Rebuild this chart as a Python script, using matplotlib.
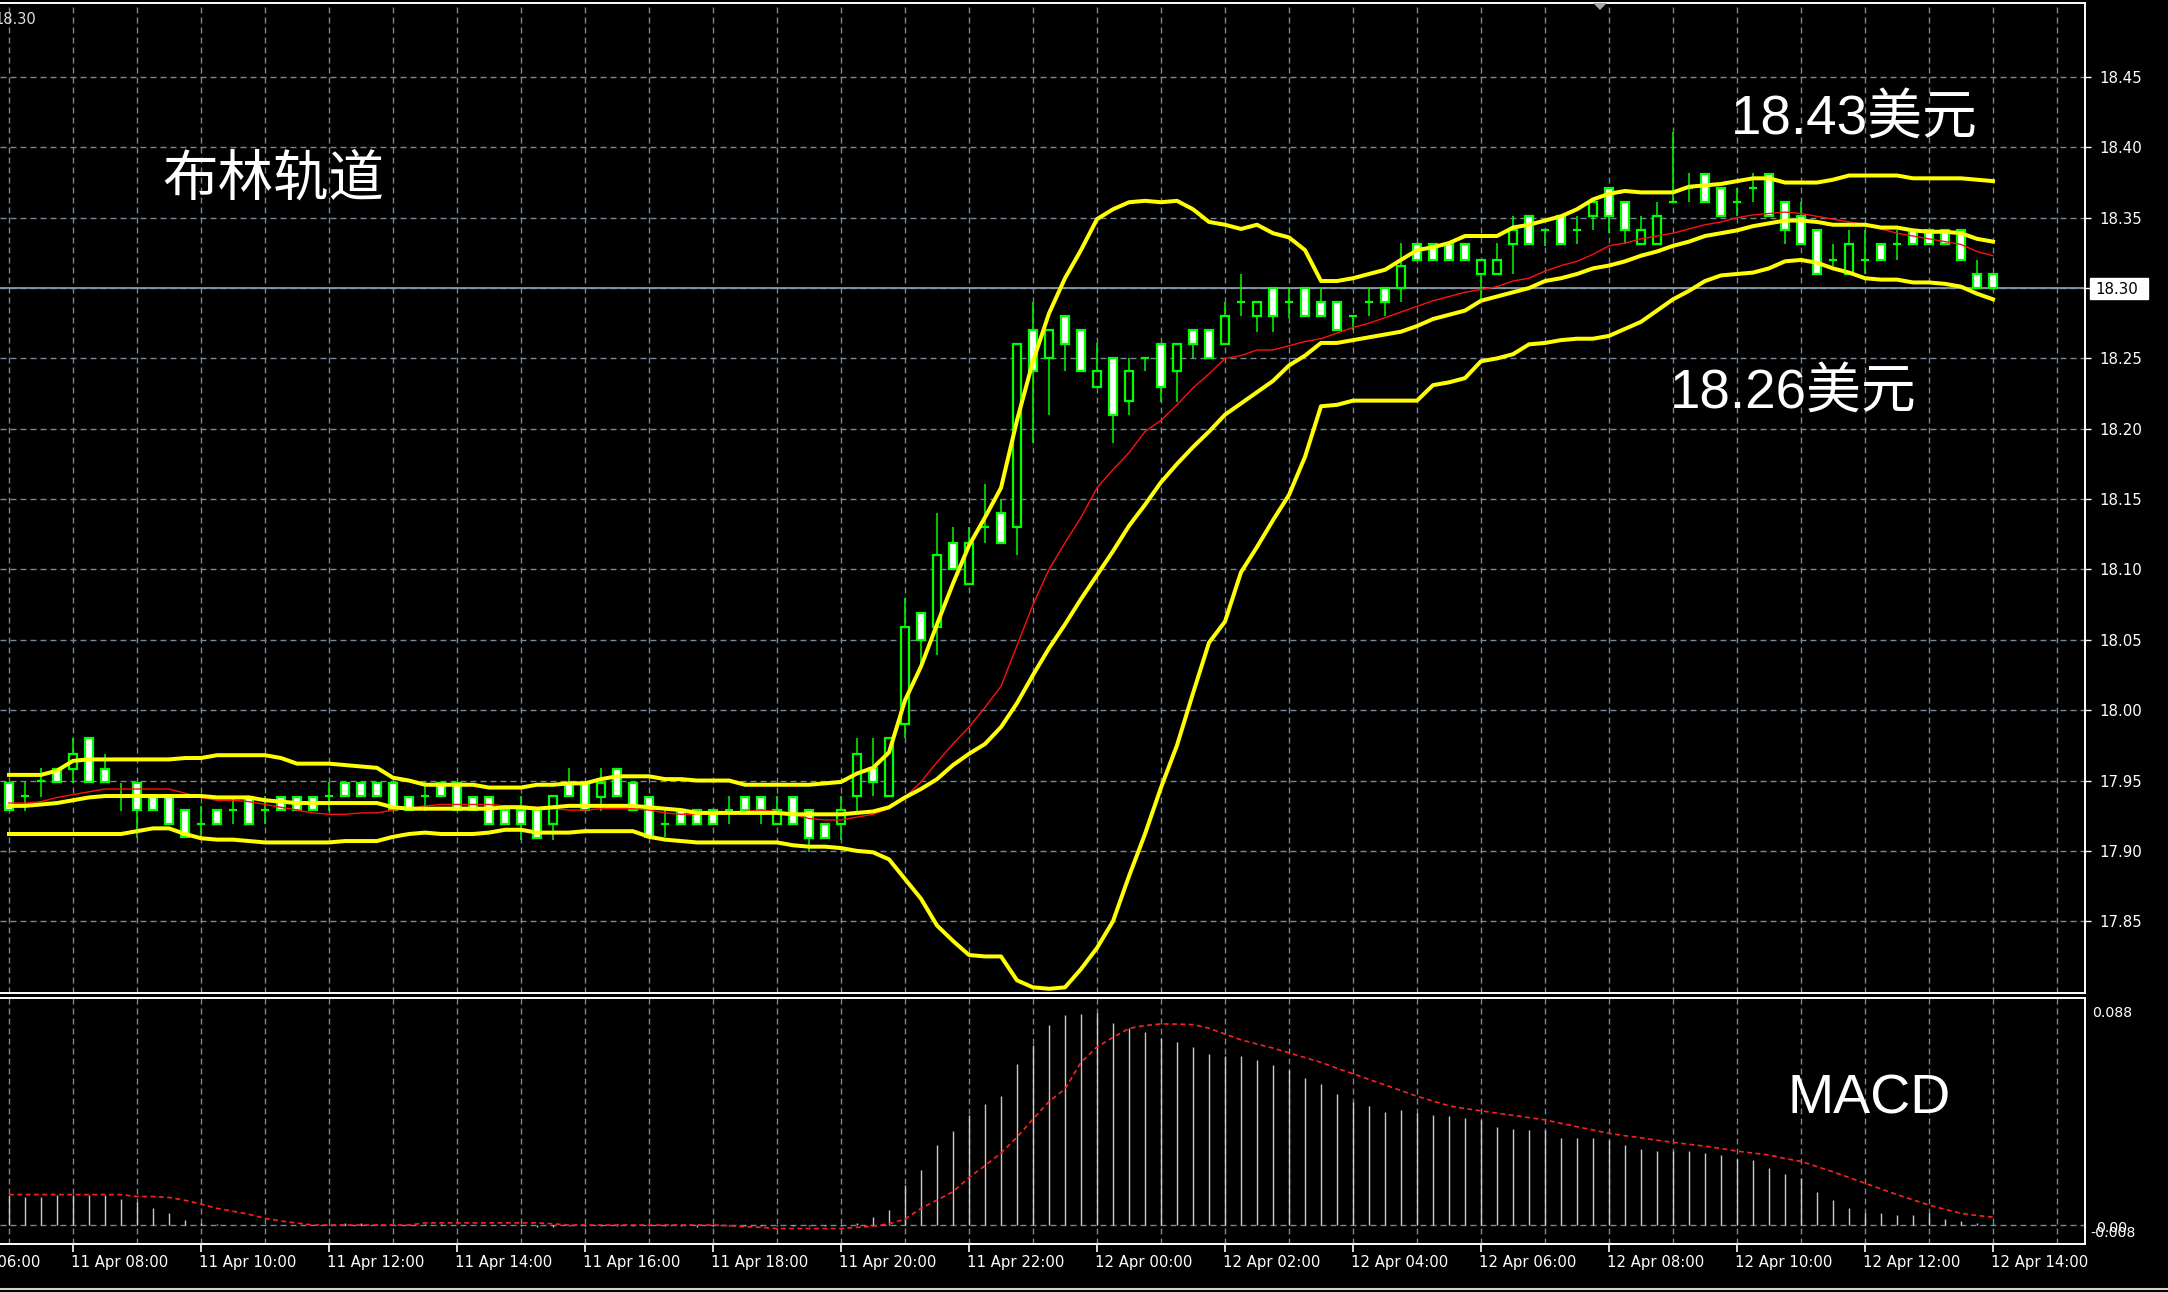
import matplotlib
matplotlib.use("Agg")
import matplotlib.pyplot as plt
from matplotlib.patches import Rectangle, Polygon
import numpy as np

plt.rcParams['lines.scale_dashes'] = False

# ---------------- data (15-minute candles, 11 Apr 07:00 -> 12 Apr 14:00) ----------------
opens = [17.948, 17.939, 17.950, 17.958, 17.958, 17.980, 17.958, 17.938, 17.948, 17.938,
         17.938, 17.929, 17.919, 17.929, 17.929, 17.938, 17.929, 17.938, 17.938, 17.938,
         17.939, 17.948, 17.948, 17.948, 17.948, 17.938, 17.939, 17.948, 17.948, 17.938,
         17.938, 17.929, 17.929, 17.929, 17.919, 17.948, 17.948, 17.938, 17.958, 17.948,
         17.938, 17.919, 17.929, 17.929, 17.929, 17.929, 17.938, 17.938, 17.919, 17.938,
         17.929, 17.919, 17.919, 17.939, 17.959, 17.939, 17.990, 18.069, 18.059, 18.119,
         18.090, 18.130, 18.140, 18.130, 18.270, 18.250, 18.280, 18.270, 18.230, 18.250,
         18.220, 18.250, 18.260, 18.241, 18.270, 18.270, 18.260, 18.290, 18.280, 18.300,
         18.290, 18.300, 18.290, 18.290, 18.280, 18.290, 18.300, 18.300, 18.331, 18.331,
         18.331, 18.331, 18.310, 18.310, 18.331, 18.351, 18.341, 18.351, 18.341, 18.351,
         18.371, 18.361, 18.331, 18.331, 18.361, 18.371, 18.381, 18.371, 18.361, 18.371,
         18.381, 18.361, 18.351, 18.341, 18.320, 18.310, 18.320, 18.331, 18.331, 18.341,
         18.341, 18.341, 18.341, 18.310, 18.310]
highs = [17.948, 17.949, 17.959, 17.958, 17.980, 17.980, 17.969, 17.948, 17.948, 17.938,
         17.938, 17.929, 17.932, 17.929, 17.939, 17.938, 17.939, 17.938, 17.938, 17.938,
         17.949, 17.948, 17.948, 17.948, 17.948, 17.938, 17.949, 17.948, 17.948, 17.938,
         17.938, 17.929, 17.939, 17.929, 17.939, 17.959, 17.948, 17.959, 17.958, 17.948,
         17.938, 17.929, 17.929, 17.929, 17.929, 17.939, 17.938, 17.938, 17.939, 17.938,
         17.929, 17.919, 17.939, 17.980, 17.980, 17.980, 18.080, 18.069, 18.140, 18.130,
         18.130, 18.161, 18.150, 18.260, 18.290, 18.270, 18.280, 18.270, 18.261, 18.250,
         18.250, 18.250, 18.260, 18.260, 18.270, 18.270, 18.290, 18.310, 18.290, 18.300,
         18.300, 18.300, 18.300, 18.290, 18.280, 18.300, 18.300, 18.332, 18.331, 18.331,
         18.331, 18.331, 18.320, 18.332, 18.351, 18.351, 18.341, 18.351, 18.351, 18.361,
         18.371, 18.361, 18.351, 18.361, 18.411, 18.382, 18.381, 18.371, 18.371, 18.382,
         18.381, 18.361, 18.361, 18.341, 18.331, 18.341, 18.341, 18.331, 18.341, 18.341,
         18.341, 18.341, 18.341, 18.320, 18.310]
lows = [17.929, 17.928, 17.938, 17.949, 17.948, 17.949, 17.949, 17.928, 17.909, 17.929,
        17.919, 17.910, 17.910, 17.919, 17.919, 17.919, 17.919, 17.929, 17.929, 17.929,
        17.928, 17.939, 17.939, 17.939, 17.929, 17.929, 17.928, 17.939, 17.929, 17.929,
        17.919, 17.919, 17.908, 17.909, 17.908, 17.939, 17.929, 17.928, 17.939, 17.929,
        17.910, 17.910, 17.919, 17.919, 17.919, 17.919, 17.929, 17.919, 17.919, 17.919,
        17.899, 17.909, 17.908, 17.928, 17.939, 17.939, 17.980, 18.030, 18.039, 18.100,
        18.090, 18.119, 18.119, 18.110, 18.190, 18.210, 18.241, 18.241, 18.230, 18.190,
        18.210, 18.241, 18.219, 18.219, 18.250, 18.250, 18.260, 18.280, 18.269, 18.269,
        18.279, 18.280, 18.280, 18.270, 18.270, 18.280, 18.280, 18.290, 18.320, 18.320,
        18.320, 18.320, 18.292, 18.310, 18.310, 18.331, 18.330, 18.331, 18.331, 18.341,
        18.339, 18.331, 18.331, 18.331, 18.361, 18.361, 18.361, 18.351, 18.351, 18.361,
        18.351, 18.331, 18.331, 18.310, 18.316, 18.310, 18.310, 18.320, 18.320, 18.331,
        18.331, 18.331, 18.320, 18.300, 18.300]
closes = [17.929, 17.939, 17.950, 17.949, 17.969, 17.949, 17.949, 17.938, 17.929, 17.929,
          17.919, 17.910, 17.919, 17.919, 17.929, 17.919, 17.929, 17.929, 17.929, 17.929,
          17.939, 17.939, 17.939, 17.939, 17.929, 17.929, 17.939, 17.939, 17.929, 17.929,
          17.919, 17.919, 17.919, 17.909, 17.939, 17.939, 17.929, 17.948, 17.939, 17.929,
          17.910, 17.919, 17.919, 17.919, 17.919, 17.929, 17.929, 17.929, 17.929, 17.919,
          17.909, 17.909, 17.929, 17.969, 17.949, 17.980, 18.059, 18.050, 18.110, 18.100,
          18.119, 18.130, 18.119, 18.260, 18.241, 18.270, 18.260, 18.241, 18.241, 18.210,
          18.241, 18.250, 18.230, 18.260, 18.260, 18.250, 18.280, 18.290, 18.290, 18.280,
          18.290, 18.280, 18.280, 18.270, 18.280, 18.290, 18.290, 18.316, 18.320, 18.320,
          18.320, 18.320, 18.320, 18.320, 18.341, 18.331, 18.341, 18.331, 18.341, 18.361,
          18.351, 18.341, 18.341, 18.351, 18.361, 18.371, 18.361, 18.351, 18.361, 18.371,
          18.351, 18.341, 18.331, 18.310, 18.320, 18.331, 18.320, 18.320, 18.331, 18.331,
          18.331, 18.331, 18.320, 18.300, 18.300]

bb_upper = [17.954, 17.954, 17.954, 17.957, 17.964, 17.965, 17.965, 17.965, 17.965, 17.965,
            17.965, 17.966, 17.966, 17.968, 17.968, 17.968, 17.968, 17.966, 17.962, 17.962,
            17.962, 17.961, 17.960, 17.959, 17.952, 17.950, 17.947, 17.947, 17.947, 17.947,
            17.945, 17.945, 17.945, 17.947, 17.947, 17.948, 17.948, 17.951, 17.953, 17.953,
            17.953, 17.951, 17.951, 17.950, 17.950, 17.950, 17.947, 17.947, 17.947, 17.947,
            17.947, 17.948, 17.949, 17.955, 17.959, 17.970, 18.007, 18.031, 18.061, 18.090,
            18.117, 18.137, 18.158, 18.206, 18.248, 18.282, 18.307, 18.327, 18.349, 18.356,
            18.361, 18.362, 18.361, 18.362, 18.356, 18.347, 18.345, 18.342, 18.345, 18.339,
            18.336, 18.327, 18.305, 18.305, 18.307, 18.310, 18.313, 18.320, 18.327, 18.329,
            18.332, 18.337, 18.337, 18.337, 18.343, 18.345, 18.348, 18.351, 18.356, 18.363,
            18.367, 18.369, 18.368, 18.368, 18.368, 18.372, 18.373, 18.374, 18.376, 18.378,
            18.378, 18.375, 18.375, 18.375, 18.377, 18.380, 18.380, 18.380, 18.380, 18.378,
            18.378, 18.378, 18.378, 18.377, 18.376]
bb_middle = [17.932, 17.932, 17.933, 17.934, 17.936, 17.938, 17.939, 17.939, 17.939, 17.939,
             17.939, 17.939, 17.939, 17.938, 17.938, 17.938, 17.936, 17.935, 17.934, 17.934,
             17.934, 17.934, 17.934, 17.934, 17.931, 17.930, 17.930, 17.930, 17.930, 17.930,
             17.930, 17.931, 17.931, 17.930, 17.931, 17.932, 17.932, 17.932, 17.932, 17.932,
             17.931, 17.930, 17.929, 17.927, 17.927, 17.927, 17.927, 17.927, 17.927, 17.926,
             17.926, 17.926, 17.926, 17.927, 17.928, 17.931, 17.938, 17.944, 17.951, 17.961,
             17.969, 17.976, 17.988, 18.005, 18.025, 18.044, 18.061, 18.079, 18.096, 18.113,
             18.131, 18.146, 18.162, 18.175, 18.187, 18.198, 18.210, 18.218, 18.226, 18.234,
             18.245, 18.252, 18.261, 18.261, 18.263, 18.265, 18.267, 18.269, 18.273, 18.278,
             18.281, 18.284, 18.291, 18.294, 18.297, 18.300, 18.305, 18.307, 18.310, 18.314,
             18.316, 18.319, 18.323, 18.326, 18.330, 18.333, 18.337, 18.339, 18.341, 18.344,
             18.346, 18.348, 18.348, 18.347, 18.345, 18.345, 18.345, 18.343, 18.343, 18.341,
             18.340, 18.340, 18.339, 18.335, 18.333]
bb_lower = [17.912, 17.912, 17.912, 17.912, 17.912, 17.912, 17.912, 17.912, 17.914, 17.916,
            17.916, 17.912, 17.909, 17.908, 17.908, 17.907, 17.906, 17.906, 17.906, 17.906,
            17.906, 17.907, 17.907, 17.907, 17.910, 17.912, 17.913, 17.912, 17.912, 17.912,
            17.913, 17.915, 17.915, 17.913, 17.913, 17.913, 17.914, 17.914, 17.914, 17.914,
            17.910, 17.908, 17.907, 17.906, 17.906, 17.906, 17.906, 17.906, 17.906, 17.904,
            17.903, 17.903, 17.902, 17.900, 17.899, 17.894, 17.880, 17.866, 17.847, 17.836,
            17.826, 17.825, 17.825, 17.808, 17.803, 17.802, 17.803, 17.816, 17.831, 17.850,
            17.882, 17.912, 17.945, 17.975, 18.012, 18.048, 18.063, 18.098, 18.116, 18.135,
            18.153, 18.180, 18.216, 18.217, 18.220, 18.220, 18.220, 18.220, 18.220, 18.231,
            18.233, 18.236, 18.248, 18.250, 18.253, 18.260, 18.261, 18.263, 18.264, 18.264,
            18.266, 18.271, 18.276, 18.284, 18.292, 18.298, 18.305, 18.309, 18.310, 18.311,
            18.314, 18.319, 18.320, 18.318, 18.314, 18.311, 18.307, 18.306, 18.306, 18.304,
            18.304, 18.303, 18.301, 18.296, 18.292]
ma_red = [17.934, 17.934, 17.935, 17.938, 17.940, 17.942, 17.944, 17.944, 17.944, 17.944,
          17.944, 17.941, 17.938, 17.936, 17.936, 17.935, 17.933, 17.931, 17.929, 17.927,
          17.926, 17.926, 17.927, 17.927, 17.929, 17.930, 17.932, 17.933, 17.933, 17.933,
          17.933, 17.932, 17.932, 17.931, 17.930, 17.929, 17.929, 17.930, 17.930, 17.930,
          17.929, 17.927, 17.926, 17.926, 17.926, 17.926, 17.928, 17.929, 17.928, 17.926,
          17.923, 17.922, 17.922, 17.924, 17.926, 17.930, 17.938, 17.949, 17.963, 17.976,
          17.988, 18.002, 18.017, 18.046, 18.075, 18.100, 18.119, 18.137, 18.158, 18.171,
          18.183, 18.198, 18.206, 18.217, 18.229, 18.239, 18.250, 18.252, 18.256, 18.256,
          18.259, 18.262, 18.264, 18.268, 18.272, 18.275, 18.279, 18.283, 18.287, 18.291,
          18.294, 18.297, 18.299, 18.301, 18.305, 18.307, 18.312, 18.316, 18.319, 18.324,
          18.330, 18.332, 18.335, 18.337, 18.339, 18.342, 18.345, 18.347, 18.350, 18.352,
          18.353, 18.354, 18.353, 18.351, 18.349, 18.347, 18.345, 18.342, 18.339, 18.337,
          18.335, 18.333, 18.331, 18.326, 18.323]

macd_hist = [0.0125, 0.0116, 0.0116, 0.0125, 0.0128, 0.0125, 0.0125, 0.0109, 0.0097, 0.0073,
             0.0049, 0.0021, 0.0010, 0.0005, 0.0002, 0.0000, 0.0000, 0.0000, 0.0000, 0.0000,
             0.0003, 0.0007, 0.0008, 0.0006, 0.0004, 0.0003, 0.0003, 0.0003, 0.0002, 0.0002,
             0.0000, 0.0000, -0.0003, -0.0010, -0.0010, -0.0003, -0.0003, -0.0003, -0.0003, -0.0003,
             -0.0003, -0.0003, -0.0003, -0.0010, -0.0005, -0.0005, -0.0005, -0.0005, -0.0005, -0.0005,
             -0.0005, -0.0005, -0.0005, 0.0009, 0.0033, 0.0065, 0.0168, 0.0232, 0.0335, 0.0394,
             0.0462, 0.0510, 0.0545, 0.0677, 0.0756, 0.0841, 0.0884, 0.0888, 0.0892, 0.0849,
             0.0831, 0.0812, 0.0788, 0.0772, 0.0748, 0.0720, 0.0713, 0.0713, 0.0693, 0.0672,
             0.0653, 0.0621, 0.0594, 0.0550, 0.0518, 0.0502, 0.0478, 0.0486, 0.0470, 0.0465,
             0.0457, 0.0449, 0.0443, 0.0414, 0.0406, 0.0398, 0.0398, 0.0367, 0.0367, 0.0367,
             0.0359, 0.0335, 0.0319, 0.0311, 0.0311, 0.0311, 0.0303, 0.0295, 0.0279, 0.0272,
             0.0240, 0.0216, 0.0200, 0.0141, 0.0104, 0.0073, 0.0052, 0.0049, 0.0041, 0.0041,
             0.0049, 0.0025, 0.0017, 0.0009, 0.0005]
macd_signal = [0.0128, 0.0128, 0.0128, 0.0128, 0.0128, 0.0128, 0.0128, 0.0128, 0.0120, 0.0120,
               0.0116, 0.0104, 0.0088, 0.0070, 0.0058, 0.0045, 0.0028, 0.0017, 0.0008, 0.0000,
               0.0000, 0.0000, 0.0000, 0.0000, 0.0000, 0.0000, 0.0009, 0.0009, 0.0009, 0.0009,
               0.0009, 0.0009, 0.0009, 0.0009, 0.0005, 0.0000, 0.0000, 0.0000, 0.0000, 0.0000,
               0.0000, 0.0000, 0.0000, 0.0000, 0.0000, -0.0003, -0.0007, -0.0010, -0.0015, -0.0015,
               -0.0015, -0.0015, -0.0015, -0.0010, -0.0005, 0.0005, 0.0025, 0.0070, 0.0105, 0.0140,
               0.0200, 0.0250, 0.0303, 0.0370, 0.0446, 0.0520, 0.0573, 0.0685, 0.0750, 0.0790,
               0.0828, 0.0840, 0.0847, 0.0846, 0.0844, 0.0829, 0.0804, 0.0780, 0.0762, 0.0745,
               0.0725, 0.0705, 0.0685, 0.0660, 0.0637, 0.0613, 0.0590, 0.0566, 0.0542, 0.0522,
               0.0502, 0.0490, 0.0481, 0.0471, 0.0462, 0.0452, 0.0443, 0.0428, 0.0414, 0.0400,
               0.0386, 0.0376, 0.0367, 0.0357, 0.0348, 0.0340, 0.0332, 0.0322, 0.0311, 0.0303,
               0.0295, 0.0280, 0.0268, 0.0246, 0.0224, 0.0200, 0.0176, 0.0152, 0.0128, 0.0106,
               0.0084, 0.0066, 0.0049, 0.0040, 0.0033]

price_levels = [17.85, 17.90, 17.95, 18.00, 18.05, 18.10, 18.15, 18.20, 18.25, 18.30, 18.35, 18.40, 18.45]
time_labels = ["11 Apr 06:00", "11 Apr 08:00", "11 Apr 10:00", "11 Apr 12:00", "11 Apr 14:00",
               "11 Apr 16:00", "11 Apr 18:00", "11 Apr 20:00", "11 Apr 22:00", "12 Apr 00:00",
               "12 Apr 02:00", "12 Apr 04:00", "12 Apr 06:00", "12 Apr 08:00", "12 Apr 10:00",
               "12 Apr 12:00", "12 Apr 14:00"]
last_price = 18.30
macd_max_label = "0.088"

# ---------------- layout helpers (pixels) ----------------
W, H = 2168, 1292
def fx(px):
    return px / W
def fy(py):
    return 1 - py / H

GREEN = "#00ff00"
YELLOW = "#ffff00"
GRID = "#778899"
PXPT = 0.72  # one pixel in points at dpi 100
DASH = (0, (4.3, 2.9))

fig = plt.figure(figsize=(W / 100, H / 100), dpi=100, facecolor="black")

ax_p = fig.add_axes([0, fy(993), fx(2085), (993 - 3) / H], facecolor="black")
ax_m = fig.add_axes([0, fy(1244), fx(2085), (1244 - 998) / H], facecolor="black")

n = len(opens)
idx = np.arange(n)
xlim = (-0.5625, 129.75)

for ax in (ax_p, ax_m):
    for s in ("top", "right", "bottom"):
        ax.spines[s].set_color("white")
        ax.spines[s].set_linewidth(1.4)
    ax.spines["left"].set_visible(False)
    for g in range(0, 130, 4):
        ax.axvline(g, color=GRID, lw=1.0, ls=DASH, zorder=1)

for lv in price_levels:
    ax_p.axhline(lv, color=GRID, lw=1.0, ls=DASH, zorder=1)
ax_m.axhline(0.0, color=GRID, lw=1.0, ls=DASH, zorder=1)

# bid line
ax_p.axhline(last_price, color="#8a98a8", lw=1.3, zorder=2)

# ---------------- candles ----------------
o = np.array(opens); c = np.array(closes); hi = np.array(highs); lo = np.array(lows)
ax_p.vlines(idx, lo, hi, color=GREEN, lw=1.1, zorder=3)
bw = 0.56
bear = c < o
bull = c > o
doji = c == o
ax_p.bar(idx[bear], (o - c)[bear], bottom=c[bear], width=bw, color="white",
         edgecolor=GREEN, linewidth=1.6, zorder=4)
ax_p.bar(idx[bull], (c - o)[bull], bottom=o[bull], width=bw, color="black",
         edgecolor=GREEN, linewidth=1.6, zorder=4)
ax_p.hlines(o[doji], idx[doji] - bw / 2, idx[doji] + bw / 2, color=GREEN, lw=1.6, zorder=4)

# ---------------- indicators ----------------
ax_p.plot(idx, ma_red, color="#ff1010", lw=1.0, zorder=5)
for band in (bb_upper, bb_middle, bb_lower):
    ax_p.plot(idx, band, color=YELLOW, lw=4.0 * PXPT, zorder=6, solid_joinstyle="round")

ax_m.vlines(idx, 0, macd_hist, color="#c8c8c8", lw=1.0, zorder=3)
ax_m.plot(idx, macd_signal, color="#ff2020", lw=1.2, ls=(0, (3.5, 2.5)), zorder=4)

# ---------------- axes ticks / labels ----------------
ax_p.set_xticks([])
ax_p.yaxis.tick_right()
ax_p.set_yticks(price_levels)
ax_p.set_yticklabels([("" if abs(v - last_price) < 1e-9 else f"{v:.2f}") for v in price_levels])
ax_p.tick_params(axis="y", colors="white", length=4, width=1.0, pad=6, labelsize=10.8,
                 labelcolor="white")

ax_m.set_yticks([])
tick_pos = [-4 + 8 * k for k in range(len(time_labels))]
ax_m.set_xticks(tick_pos[1:])
ax_m.set_xticklabels([])
ax_m.tick_params(axis="x", colors="white", length=6, width=1.2, direction="out")

# limits last (set_xticks may widen them)
for ax in (ax_p, ax_m):
    ax.set_xlim(*xlim)
ax_p.set_ylim(17.799, 18.5026)
ax_m.set_ylim(-0.0080, 0.0956)

for xp, lab in zip(tick_pos, time_labels):
    ax_m.text(xp - 0.13, -0.075, lab, transform=ax_m.get_xaxis_transform(), color="white",
              fontsize=10.7, ha="left", va="center", family="DejaVu Sans", clip_on=False)

# current price box
fig.patches.append(Rectangle((fx(2090), fy(299)), fx(58), 21 / H, transform=fig.transFigure,
                             facecolor="white", edgecolor="white", zorder=10))
fig.text(fx(2095), fy(289), f"{last_price:.2f}", color="black", fontsize=10.8,
         ha="left", va="center", family="DejaVu Sans", zorder=11)

# MACD scale labels
fig.text(fx(2092), fy(1013), macd_max_label, color="white", fontsize=10.2, ha="left", va="center",
         family="DejaVu Sans")
fig.text(fx(2096), fy(1228), "0.00", color="white", fontsize=10.2, ha="left", va="center",
         family="DejaVu Sans")
fig.text(fx(2090), fy(1233), "-0.008", color="white", fontsize=10.2, ha="left", va="center",
         family="DejaVu Sans")

# top-left value
fig.text(fx(-6), fy(20), "18.30", color="#e0e0e0", fontsize=10.5, ha="left", va="center",
         family="DejaVu Sans")

# chart shift marker
fig.patches.append(Polygon([[fx(1593), fy(3)], [fx(1607), fy(3)], [fx(1600), fy(10)]], closed=True,
                           transform=fig.transFigure, facecolor="#a0a8b0", edgecolor="none", zorder=10))

# bottom strip line
fig.add_artist(plt.Line2D([0, 1], [fy(1289), fy(1289)], transform=fig.transFigure, color="#d0d0d0", lw=1.5))

# ---------------- annotations ----------------
cjk = ["Noto Sans CJK SC", "DejaVu Sans"]
mixed = ["Liberation Sans", "Noto Sans CJK SC", "DejaVu Sans"]
fig.text(fx(162), fy(180), "布林轨道", color="white", fontsize=40, family=cjk, ha="left", va="center")
fig.text(fx(1731), fy(120), "18.43美元", color="white", fontsize=39.5, family=mixed, ha="left", va="center")
fig.text(fx(1670), fy(394), "18.26美元", color="white", fontsize=39.5, family=mixed, ha="left", va="center")
fig.text(fx(1788), fy(1099), "MACD", color="white", fontsize=40, family=["Liberation Sans", "DejaVu Sans"],
         ha="left", va="center")

fig.savefig("out.png", dpi=100, facecolor="black")
